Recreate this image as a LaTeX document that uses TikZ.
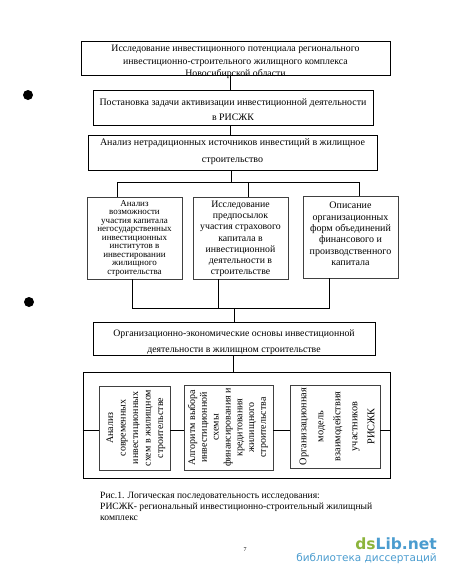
\documentclass[tikz,border=0pt]{standalone}
\usepackage{fontspec}
\setmainfont{Liberation Serif}
\newfontfamily\wmfont{DejaVu Sans}
\definecolor{wmgreen}{HTML}{8CB43C}
\definecolor{wmblue}{HTML}{4A9CCF}
\begin{document}
\begin{tikzpicture}[x=1pt,y=-1pt,
  mainbox/.style={draw=black,line width=1pt,inner sep=0pt},
  subbox/.style={draw=black!75,line width=0.7pt,inner sep=0pt},
  txt/.style={align=center,inner sep=0pt},
  conn/.style={draw=black,line width=1pt}]
\useasboundingbox (0,0) rectangle (450,581);
% boxes
\node[mainbox,minimum width=309pt,minimum height=34pt] (b1) at (235.5,58) {};
\node[mainbox,minimum width=280pt,minimum height=35pt] (b2) at (233,107.5) {};
\node[mainbox,minimum width=289pt,minimum height=35pt] (b3) at (232.5,152.5) {};
\node[subbox,minimum width=95pt,minimum height=82pt] (b4) at (134.5,238) {};
\node[subbox,minimum width=95pt,minimum height=82pt] (b5) at (240.5,238) {};
\node[subbox,minimum width=95pt,minimum height=82pt] (b6) at (350.5,237) {};
\node[mainbox,minimum width=282pt,minimum height=33pt] (b7) at (234,338.5) {};
\node[mainbox,minimum width=307pt,minimum height=106pt] (b8) at (236.5,425) {};
\node[subbox,minimum width=71pt,minimum height=84pt] (b9) at (134.5,428) {};
\node[subbox,minimum width=89pt,minimum height=85pt] (b10) at (228.5,427.5) {};
\node[subbox,minimum width=90pt,minimum height=83pt] (b11) at (335,426.5) {};
% texts
\node[txt,font=\fontsize{9.8}{12.5}\selectfont] (b1t) at (235.5,62) {Исследование инвестиционного потенциала регионального\\инвестиционно-строительного жилищного комплекса\\Новосибирской области};
\node[txt,font=\fontsize{9.9}{15}\selectfont] (b2t) at (233,109.5) {Постановка задачи активизации инвестиционной деятельности\\в РИСЖК};
\node[txt,font=\fontsize{10}{17}\selectfont] (b3t) at (232.5,151.5) {Анализ нетрадиционных источников инвестиций в жилищное\\строительство};
\node[txt,font=\fontsize{9}{8.5}\selectfont] (b4t) at (134.5,238) {Анализ\\возможности\\участия капитала\\негосударственных\\инвестиционных\\институтов в\\инвестировании\\жилищного\\строительства};
\node[txt,font=\fontsize{9.8}{11.2}\selectfont] (b5t) at (240.5,239) {Исследование\\предпосылок\\участия страхового\\капитала в\\инвестиционной\\деятельности в\\строительстве};
\node[txt,font=\fontsize{10}{11.4}\selectfont] (b6t) at (350.5,234) {Описание\\организационных\\форм объединений\\финансового и\\производственного\\капитала};
\node[txt,font=\fontsize{9.8}{16}\selectfont] (b7t) at (234,342) {Организационно-экономические основы инвестиционной\\деятельности в жилищном строительстве};
\node[txt,rotate=90,font=\fontsize{10}{12.5}\selectfont] (b9t) at (136,428) {Анализ\\современных\\инвестиционных\\схем в жилищном\\строительстве};
\node[txt,rotate=90,font=\fontsize{10}{11.8}\selectfont] (b10t) at (228,427.5) {Алгоритм выбора\\инвестиционной\\схемы\\финансирования и\\кредитования\\жилищного\\строительства};
\node[txt,rotate=90,font=\fontsize{10.3}{17}\selectfont] (b11t) at (337,426.5) {Организационная\\модель\\взаимодействия\\участников\\РИСЖК};
% connectors
\draw[conn] (b1.south -| 230,0) -- (b2.north -| 230,0);
\draw[conn] (b2.south -| 230,0) -- (b3.north -| 230,0);
\coordinate (t3) at (231,182);
\coordinate (t4) at (117,182);
\coordinate (t5) at (248,182);
\coordinate (t6) at (359,182);
\draw[conn] (b3.south -| t3) -- (t3);
\draw[conn] (t4 |- b4.north) -- (t4) -- (t6) -- (t6 |- b6.north);
\draw[conn] (t5) -- (t5 |- b5.north);
\coordinate (u4) at (132,308);
\coordinate (u5) at (218,308);
\coordinate (u6) at (329,308);
\coordinate (u7) at (234,308);
\draw[conn] (u4 |- b4.south) -- (u4) -- (u6) -- (u6 |- b6.south);
\draw[conn] (u5 |- b5.south) -- (u5);
\draw[conn] (u7) -- (u7 |- b7.north);
\draw[conn] (b7.south -| 233,0) -- (b8.north -| 233,0);
\coordinate (h) at (0,430);
\draw[conn] (b8.west |- h) -- (b9.west |- h);
\draw[conn] (b9.east |- h) -- (b10.west |- h);
\draw[conn] (b10.east |- h) -- (b11.west |- h);
\draw[conn] (b11.east |- h) -- (b8.east |- h);
% caption
\node[anchor=north west,align=left,inner sep=0pt,font=\fontsize{9.6}{11}\selectfont] (cap) at (100,491.5) {Рис.1. Логическая последовательность исследования:\\РИСЖК- региональный инвестиционно-строительный жилищный\\комплекс};
\node[inner sep=0pt,font=\fontsize{6}{7}\selectfont] (pg) at (245,550) {7};
% punch holes
\fill[black] (28,95) circle (5);
\fill[black] (29,302) circle (5);
% watermark
\node[anchor=east,inner sep=0pt,font=\wmfont\bfseries\fontsize{15.5}{16}\selectfont] (wm1) at (437,544) {\textcolor{wmgreen}{ds}\textcolor{wmblue}{Lib.net}};
\node[anchor=east,inner sep=0pt,text=wmblue,font=\wmfont\fontsize{10.5}{12}\selectfont] (wm2) at (437,559) {библиотека диссертаций};
\end{tikzpicture}
\end{document}
